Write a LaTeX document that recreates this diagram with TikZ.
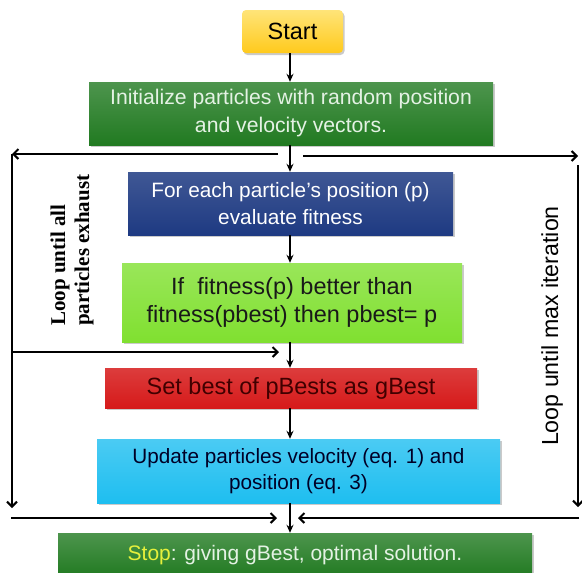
\documentclass[tikz,border=0pt]{standalone}
\usepackage{fontspec}
\setmainfont{Liberation Sans}
\newfontfamily\serifb{Liberation Serif}
\usetikzlibrary{arrows.meta,shadows}
\definecolor{startY}{HTML}{FFD21F}
\definecolor{initG}{HTML}{217A21}
\definecolor{navyB}{HTML}{1E3A82}
\definecolor{limeG}{HTML}{80E030}
\definecolor{redR}{HTML}{D61A1A}
\definecolor{cyanC}{HTML}{1EBEF0}
\definecolor{lightT}{HTML}{E4F2E4}
\definecolor{stopY}{HTML}{E6F03C}
\begin{document}
\begin{tikzpicture}[x=1pt,y=-1pt,
  box/.style={inner sep=2pt, align=center,
    drop shadow={shadow xshift=1.5pt, shadow yshift=-2pt, opacity=0.35, fill=black!60}},
  arr/.style={line width=2pt, -{Stealth[length=8pt,width=7pt]}},
  looparr/.style={line width=2pt, -{Straight Barb[length=5pt,width=10pt,line width=2pt]}}
]
\useasboundingbox (0,0) rectangle (582,573);
\clip (0,0) rectangle (582,573);

\node[box, rounded corners=4pt, top color=startY!60!white, bottom color=startY!90!orange,
  minimum width=101pt, minimum height=43pt, font=\fontsize{23.5}{26}\selectfont] (start) at (292.5,31.5) {Start};
\node[box, top color=initG!80!white, bottom color=initG, text=lightT,
  minimum width=404pt, minimum height=63pt, font=\fontsize{21.2}{28}\selectfont] (init) at (291,113.5)
  {Initialize particles with random position\\and velocity vectors.};
\node[box, top color=navyB!85!white, bottom color=navyB, text=white,
  minimum width=325pt, minimum height=63pt, font=\fontsize{20.8}{27}\selectfont] (eval) at (290.5,203.5)
  {For each particle's position (p)\\evaluate fitness};
\node[box, top color=limeG!80!white, bottom color=limeG, text=black!90,
  minimum width=340pt, minimum height=79pt, font=\fontsize{23.5}{28}\selectfont] (cmp) at (292,302.5)
  {If\ \ fitness(p) better than\\fitness(pbest) then pbest= p};
\node[box, top color=redR!85!white, bottom color=redR, text=black!75!red,
  minimum width=372pt, minimum height=40pt, font=\fontsize{23.5}{26}\selectfont] (gbest) at (291,388)
  {Set best of pBests as gBest};
\node[box, top color=cyanC!80!white, bottom color=cyanC, text=black!85!blue,
  minimum width=403pt, minimum height=64pt, font=\fontsize{20.7}{26}\selectfont] (upd) at (298.5,471)
  {Update particles velocity (eq. 1) and\\position (eq. 3)};
\node[box, top color=initG!80!white, bottom color=initG, text=lightT,
  minimum width=474pt, minimum height=44pt, font=\fontsize{21}{24}\selectfont] (stop) at (295,555)
  {\textcolor{stopY}{Stop}: giving gBest, optimal solution.};

\node[rotate=90, anchor=west, inner sep=0pt, font=\serifb\bfseries\fontsize{21}{24}\selectfont, align=left] (loopa) at (72,326)
  {Loop until all\\particles exhaust};
\node[rotate=90, font=\fontsize{23.2}{26}\selectfont] (loopb) at (552,326) {Loop until max iteration};

\coordinate (axis) at (290,0);
\draw[arr] (start.south -| axis) -- (init.north -| axis);
\draw[arr] (init.south -| axis) -- (eval.north -| axis);
\draw[arr] (eval.south -| axis) -- (cmp.north -| axis);
\draw[arr] (cmp.south -| axis) -- (gbest.north -| axis);
\draw[arr] (gbest.south -| axis) -- (upd.north -| axis);
\draw[arr] (upd.south -| axis) -- (stop.north -| axis);

\coordinate (tls) at (278,154);
\coordinate (tl) at (12,154);
\coordinate (trs) at (303,156);
\coordinate (tr) at (578,156);
\coordinate (lv1) at (12,154);
\coordinate (lv2) at (12,508);
\coordinate (rv1) at (578,165);
\coordinate (rv2) at (578,507);
\coordinate (ml) at (12,352);
\coordinate (mltip) at (279,352);
\coordinate (bl) at (11,518);
\coordinate (bltip) at (277,518);
\coordinate (br) at (579,518);
\coordinate (brtip) at (298,518);

\draw[looparr] (tls) -- (tl);
\draw[looparr] (trs) -- (tr);
\draw[looparr] (lv1) -- (lv2);
\draw[looparr] (rv1) -- (rv2);
\draw[looparr] (ml) -- (mltip);
\draw[looparr] (bl) -- (bltip);
\draw[looparr] (br) -- (brtip);
\end{tikzpicture}
\end{document}
